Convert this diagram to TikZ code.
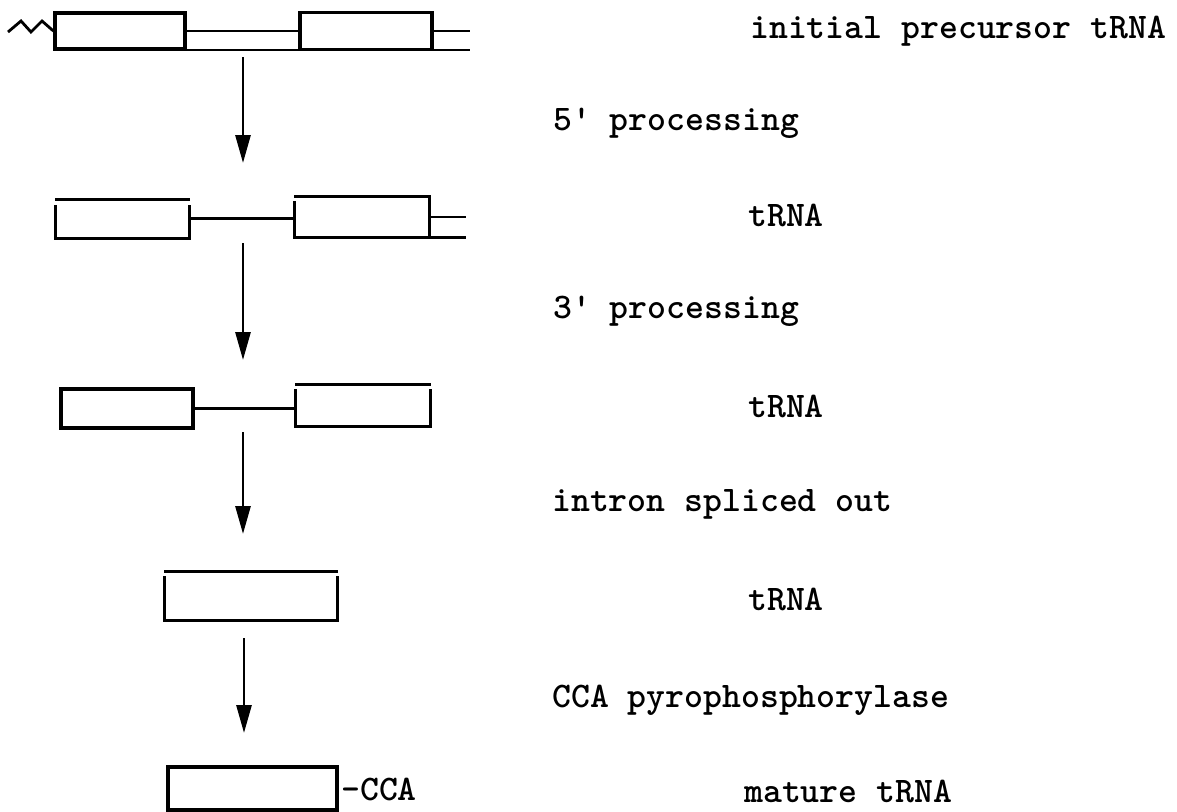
\documentclass[tikz,border=0pt]{standalone}
\usetikzlibrary{arrows.meta}
\tikzset{
  exon/.style={draw, line width=3.2pt, minimum width=130pt, minimum height=36pt, inner sep=0pt},
  opentop/.style={exon, draw=none},
  strand/.style={line width=2.8pt},
  rnatext/.style={font=\ttfamily\bfseries\fontsize{36}{40}\selectfont, anchor=base west, inner sep=0pt},
}
\begin{document}
\begin{tikzpicture}[x=1pt, y=-1pt, >={Triangle[length=28pt,width=15pt]}]
 \useasboundingbox (0,0) rectangle (1177,811);
 % initial precursor
 \node[exon] (b11) at (120,31) {};
 \node[exon, minimum width=132pt, minimum height=37pt] (b12) at (366,31) {};
 \coordinate (z1) at (8,32);
 \coordinate (t1) at (470,50);
 \coordinate (s1) at (155,50);
 \draw[strand] (z1) -- ++(13,-11) -- ++(10,11) -- ++(11,-11) -- (b11.west);
 \draw[strand] (b11.east) -- (b11.east -| b12.west);
 \draw[strand] (b12.east) -- (b12.east -| t1);
 \draw[strand] (s1) -- (t1);
 % after 5' processing
 \node[opentop, minimum width=131pt] (b21) at (122.5,218.7) {};
 \node[opentop, minimum width=132pt, minimum height=38pt] (b22) at (362,217) {};
 \coordinate (t2) at (466,217);
 \draw[exon] ([yshift=-6pt]b21.north west) -- (b21.south west) -- (b21.south east) -- ([yshift=-6pt]b21.north east);
 \draw[exon] (b21.north west) -- (b21.north east);
 \draw[exon] (b22.north west) -- (b22.north east) -- (b22.south east) -- (b22.south west) -- ([yshift=-5pt]b22.north west);
 \draw[strand] (b21.east) -- (b21.east -| b22.west);
 \draw[strand] (b22.east) -- (b22.east -| t2);
 \draw[strand] (b22.south east) -- (b22.south east -| t2);
 % after 3' processing
 \node[exon, minimum width=132pt, minimum height=39pt] (b31) at (127,408.5) {};
 \node[opentop, minimum width=132pt, minimum height=39pt] (b32) at (363,405.5) {};
 \draw[strand] (b31.east) -- (b31.east -| b32.west);
 % spliced
 \node[opentop, minimum width=170pt, minimum height=46pt] (b4) at (251,596) {};
 \foreach \b in {b32,b4} {
   \draw[exon] ([yshift=-5pt]\b.north west) -- (\b.south west) -- (\b.south east) -- ([yshift=-5pt]\b.north east);
   \draw[exon] (\b.north west) -- (\b.north east);
 }
 % mature
 \node[exon, minimum width=169pt, minimum height=43pt] (b5) at (252.5,788.5) {};
 \node[rnatext] (cca) at (341,800) {-CCA};
 % arrows
 \coordinate (p1) at (243,57);  \coordinate (q1) at (243,163);
 \coordinate (p2) at (243,243); \coordinate (q2) at (243,360);
 \coordinate (p3) at (243,432); \coordinate (q3) at (243,534);
 \coordinate (p4) at (244,638); \coordinate (q4) at (244,733);
 \draw[->, line width=2.8pt] (p1) -- (q1);
 \draw[->, line width=2.8pt] (p2) -- (q2);
 \draw[->, line width=2.8pt] (p3) -- (q3);
 \draw[->, line width=2.8pt] (p4) -- (q4);
 % labels
 \node[rnatext] (n1) at (750,38) {initial precursor tRNA};
 \node[rnatext] (n2) at (553,130) {5\textquotesingle{} processing};
 \node[rnatext] (n3) at (748,226) {tRNA};
 \node[rnatext] (n4) at (553,318) {3\textquotesingle{} processing};
 \node[rnatext] (n5) at (748,417) {tRNA};
 \node[rnatext] (n6) at (552,511) {intron spliced out};
 \node[rnatext] (n7) at (748,610) {tRNA};
 \node[rnatext] (n8) at (552,707) {CCA pyrophosphorylase};
 \node[rnatext] (n9) at (744,802) {mature tRNA};
\end{tikzpicture}
\end{document}
